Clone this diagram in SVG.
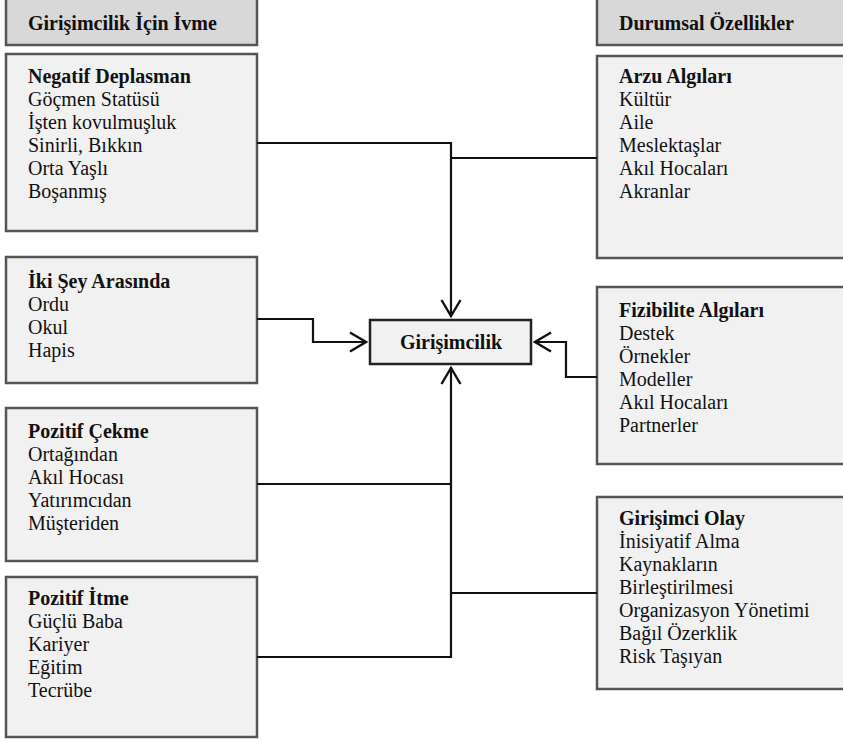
<svg xmlns="http://www.w3.org/2000/svg" width="843" height="742" viewBox="0 0 843 742">
<style>
.box{fill:#f1f1f1;stroke:#555;stroke-width:2.5}
.hdr{fill:#d8d8d8;stroke:#555;stroke-width:2.5}
text{font-family:'Liberation Serif','Times New Roman','DejaVu Serif',serif;font-size:20px;fill:#111}
.b{font-weight:bold}
.conn{fill:none;stroke:#111;stroke-width:2.2}
</style>
<defs>
<marker id="arr" viewBox="0 0 20 22" refX="18" refY="11" markerWidth="20" markerHeight="22" markerUnits="userSpaceOnUse" orient="auto">
<path d="M2,1.5 L18,11 L2,20.5" fill="none" stroke="#111" stroke-width="2.4"/>
</marker>
</defs>
<g id="hdr-left"><rect class="hdr" x="6" y="-2" width="251" height="47"/><text class="b" x="28" y="30" font-family="Liberation Serif">Girişimcilik İçin İvme</text></g>
<g id="hdr-right"><rect class="hdr" x="597" y="-2" width="250" height="47"/><text class="b" x="619" y="30" font-family="Liberation Serif">Durumsal Özellikler</text></g>
<g id="negatif"><rect class="box" x="6" y="54" width="251" height="177"/>
<text x="28" y="83" font-family="Liberation Serif"><tspan class="b">Negatif Deplasman</tspan><tspan x="28" dy="23">Göçmen Statüsü</tspan><tspan x="28" dy="23">İşten kovulmuşluk</tspan><tspan x="28" dy="23">Sinirli, Bıkkın</tspan><tspan x="28" dy="23">Orta Yaşlı</tspan><tspan x="28" dy="23">Boşanmış</tspan></text></g>
<g id="iki"><rect class="box" x="6" y="257" width="251" height="126"/>
<text x="28" y="288" font-family="Liberation Serif"><tspan class="b">İki Şey Arasında</tspan><tspan x="28" dy="23">Ordu</tspan><tspan x="28" dy="23">Okul</tspan><tspan x="28" dy="23">Hapis</tspan></text></g>
<g id="cekme"><rect class="box" x="6" y="408" width="251" height="153"/>
<text x="28" y="438" font-family="Liberation Serif"><tspan class="b">Pozitif Çekme</tspan><tspan x="28" dy="23">Ortağından</tspan><tspan x="28" dy="23">Akıl Hocası</tspan><tspan x="28" dy="23">Yatırımcıdan</tspan><tspan x="28" dy="23">Müşteriden</tspan></text></g>
<g id="itme"><rect class="box" x="6" y="577" width="251" height="160"/>
<text x="28" y="605" font-family="Liberation Serif"><tspan class="b">Pozitif İtme</tspan><tspan x="28" dy="23">Güçlü Baba</tspan><tspan x="28" dy="23">Kariyer</tspan><tspan x="28" dy="23">Eğitim</tspan><tspan x="28" dy="23">Tecrübe</tspan></text></g>
<g id="arzu"><rect class="box" x="597" y="56" width="250" height="202"/>
<text x="619" y="83" font-family="Liberation Serif"><tspan class="b">Arzu Algıları</tspan><tspan x="619" dy="23">Kültür</tspan><tspan x="619" dy="23">Aile</tspan><tspan x="619" dy="23">Meslektaşlar</tspan><tspan x="619" dy="23">Akıl Hocaları</tspan><tspan x="619" dy="23">Akranlar</tspan></text></g>
<g id="fizibilite"><rect class="box" x="597" y="287" width="250" height="177"/>
<text x="619" y="317" font-family="Liberation Serif"><tspan class="b">Fizibilite Algıları</tspan><tspan x="619" dy="23">Destek</tspan><tspan x="619" dy="23">Örnekler</tspan><tspan x="619" dy="23">Modeller</tspan><tspan x="619" dy="23">Akıl Hocaları</tspan><tspan x="619" dy="23">Partnerler</tspan></text></g>
<g id="olay"><rect class="box" x="597" y="497" width="250" height="192"/>
<text x="619" y="525" font-family="Liberation Serif"><tspan class="b">Girişimci Olay</tspan><tspan x="619" dy="23">İnisiyatif Alma</tspan><tspan x="619" dy="23">Kaynakların</tspan><tspan x="619" dy="23">Birleştirilmesi</tspan><tspan x="619" dy="23">Organizasyon Yönetimi</tspan><tspan x="619" dy="23">Bağıl Özerklik</tspan><tspan x="619" dy="23">Risk Taşıyan</tspan></text></g>
<g id="girisimcilik"><rect x="370" y="320" width="161" height="44" fill="#f1f1f1" stroke="#222" stroke-width="2.5"/><text class="b" x="451" y="349" text-anchor="middle" font-family="Liberation Serif">Girişimcilik</text></g>
<g id="connectors">
<path class="conn" d="M257,143 H451 V316" marker-end="url(#arr)"/>
<path class="conn" d="M597,158 H451"/>
<path class="conn" d="M257,319 H313 V342 H366" marker-end="url(#arr)"/>
<path class="conn" d="M597,377 H566 V342 H535" marker-end="url(#arr)"/>
<path class="conn" d="M257,657 H451 V368" marker-end="url(#arr)"/>
<path class="conn" d="M257,484 H451"/>
<path class="conn" d="M597,593 H451"/>
</g>
</svg>
